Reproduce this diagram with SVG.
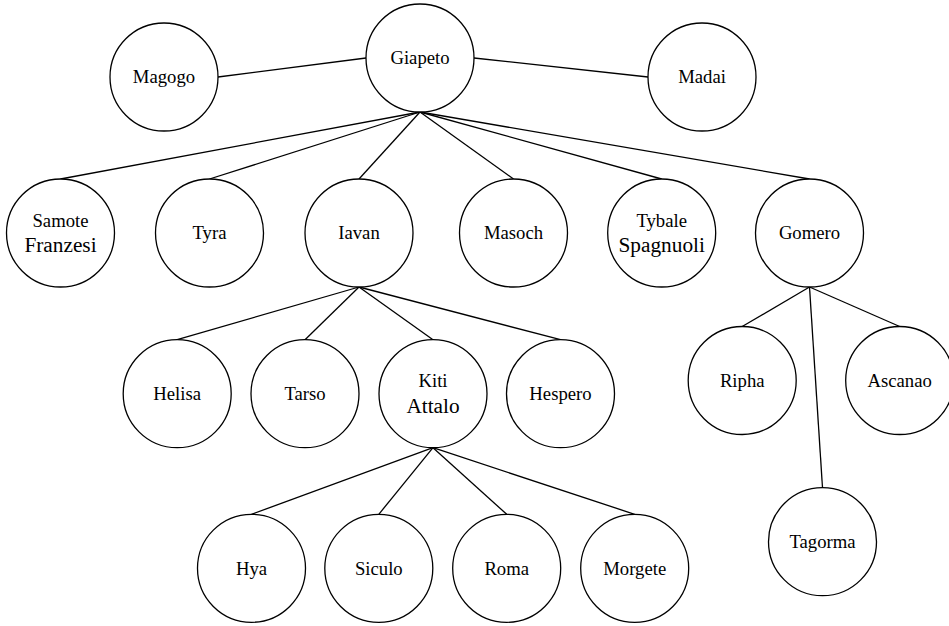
<svg xmlns="http://www.w3.org/2000/svg" width="949" height="626" viewBox="0 0 949 626">
<style>
.n{fill:#fff;stroke:#000;stroke-width:1.3}
.e{stroke:#000;stroke-width:1.3;fill:none}
text{fill:#000;text-anchor:middle}
.b{font-size:21.3px}
</style>
<rect width="949" height="626" fill="#fff"/>
<g id="connectors">
<line class="e" x1="218" y1="77" x2="366" y2="58"/>
<line class="e" x1="474" y1="58" x2="648" y2="77"/>
<line class="e" x1="420" y1="112" x2="60.5" y2="179"/>
<line class="e" x1="420" y1="112" x2="209.5" y2="179"/>
<line class="e" x1="420" y1="112" x2="359" y2="179"/>
<line class="e" x1="420" y1="112" x2="513.5" y2="179"/>
<line class="e" x1="420" y1="112" x2="661.7" y2="179"/>
<line class="e" x1="420" y1="112" x2="809.5" y2="179"/>
<line class="e" x1="359" y1="287" x2="177.2" y2="339.7"/>
<line class="e" x1="359" y1="287" x2="305" y2="339.7"/>
<line class="e" x1="359" y1="287" x2="433" y2="339.7"/>
<line class="e" x1="359" y1="287" x2="560.5" y2="339.7"/>
<line class="e" x1="809.5" y1="287" x2="742.2" y2="326.5"/>
<line class="e" x1="809.5" y1="287" x2="899.7" y2="326.5"/>
<line class="e" x1="809.5" y1="287" x2="822.5" y2="487.7"/>
<line class="e" x1="433" y1="447.7" x2="251.5" y2="514.3"/>
<line class="e" x1="433" y1="447.7" x2="378.8" y2="514.3"/>
<line class="e" x1="433" y1="447.7" x2="506.7" y2="514.3"/>
<line class="e" x1="433" y1="447.7" x2="634.7" y2="514.3"/>
</g>
<g font-family="Liberation Serif, DejaVu Serif, serif" font-size="18.7">
<g id="giapeto"><circle class="n" cx="420" cy="58" r="54"/><text x="420" y="64.2">Giapeto</text></g>
<g id="magogo"><circle class="n" cx="164" cy="77" r="54"/><text x="164" y="83.2">Magogo</text></g>
<g id="madai"><circle class="n" cx="702" cy="77" r="54"/><text x="702" y="83.2">Madai</text></g>
<g id="samote"><circle class="n" cx="60.5" cy="233" r="54"/><text x="60.5" y="227.3">Samote</text><text class="b" x="60.5" y="251.7">Franzesi</text></g>
<g id="tyra"><circle class="n" cx="209.5" cy="233" r="54"/><text x="209.5" y="239.2">Tyra</text></g>
<g id="iavan"><circle class="n" cx="359" cy="233" r="54"/><text x="359" y="239.2">Iavan</text></g>
<g id="masoch"><circle class="n" cx="513.5" cy="233" r="54"/><text x="513.5" y="239.2">Masoch</text></g>
<g id="tybale"><circle class="n" cx="661.7" cy="233" r="54"/><text x="661.7" y="227.3">Tybale</text><text class="b" x="661.7" y="251.7">Spagnuoli</text></g>
<g id="gomero"><circle class="n" cx="809.5" cy="233" r="54"/><text x="809.5" y="239.2">Gomero</text></g>
<g id="helisa"><circle class="n" cx="177.2" cy="393.7" r="54"/><text x="177.2" y="399.9">Helisa</text></g>
<g id="tarso"><circle class="n" cx="305" cy="393.7" r="54"/><text x="305" y="399.9">Tarso</text></g>
<g id="kiti"><circle class="n" cx="433" cy="393.7" r="54"/><text x="433" y="387.3">Kiti</text><text class="b" x="433" y="412.7">Attalo</text></g>
<g id="hespero"><circle class="n" cx="560.5" cy="393.7" r="54"/><text x="560.5" y="399.9">Hespero</text></g>
<g id="ripha"><circle class="n" cx="742.2" cy="380.5" r="54"/><text x="742.2" y="386.7">Ripha</text></g>
<g id="ascanao"><circle class="n" cx="899.7" cy="380.5" r="54"/><text x="899.7" y="386.7">Ascanao</text></g>
<g id="tagorma"><circle class="n" cx="822.5" cy="541.7" r="54"/><text x="822.5" y="547.9">Tagorma</text></g>
<g id="hya"><circle class="n" cx="251.5" cy="568.3" r="54"/><text x="251.5" y="574.5">Hya</text></g>
<g id="siculo"><circle class="n" cx="378.8" cy="568.3" r="54"/><text x="378.8" y="574.5">Siculo</text></g>
<g id="roma"><circle class="n" cx="506.7" cy="568.3" r="54"/><text x="506.7" y="574.5">Roma</text></g>
<g id="morgete"><circle class="n" cx="634.7" cy="568.3" r="54"/><text x="634.7" y="574.5">Morgete</text></g>
</g>
</svg>
